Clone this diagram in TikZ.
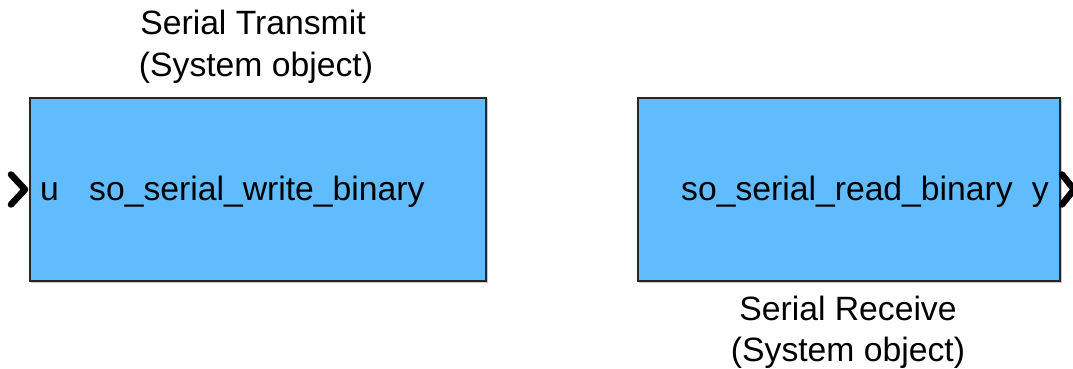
\documentclass[tikz,border=0pt]{standalone}
\usepackage{fontspec}
\setmainfont{Liberation Sans}
\begin{document}
\begin{tikzpicture}[x=1pt,y=-1pt,
  blk/.style={draw=black!85,line width=2pt,fill=blockblue,minimum width=456pt,minimum height=183pt,inner sep=0pt,anchor=north west},
  lbl/.style={font=\fontsize{33.7}{44}\selectfont,inner sep=0pt,anchor=base},
  port/.style={line width=6.5pt,line cap=round,line join=round,draw=black}]
\definecolor{blockblue}{HTML}{60BCFC}
\useasboundingbox (0,0) rectangle (1073,369);
% shadows
\fill[black!22] (31,99) rectangle (488,283);
\fill[black!22] (639,99) rectangle (1062,283);
\node[blk] (tx) at (29,97) {};
\node[blk,minimum width=422pt] (rx) at (637,97) {};
% texts
\node[lbl] (txt1) at (253,35) {Serial Transmit};
\node[lbl] (txt2) at (256,77) {(System object)};
\node[lbl] (rxt1) at (848,320) {Serial Receive};
\node[lbl] (rxt2) at (848,361) {(System object)};
\node[lbl,anchor=base west] (u) at (40,200) {u};
\node[lbl,anchor=base west] (txn) at (89,200) {so\_serial\_write\_binary};
\node[lbl,anchor=base east] (y) at (1049,200) {y};
\node[lbl,anchor=base east] (rxn) at (1013,200) {so\_serial\_read\_binary};
% ports
\coordinate (pin) at ([xshift=-4pt]tx.west);
\coordinate (pout) at ([xshift=13pt]rx.east);
\draw[port] ([xshift=-14pt,yshift=-15pt]pin) -- (pin) -- ([xshift=-14pt,yshift=15pt]pin);
\draw[port] ([xshift=-12pt,yshift=-15pt]pout) -- (pout) -- ([xshift=-12pt,yshift=15pt]pout);
\end{tikzpicture}
\end{document}
